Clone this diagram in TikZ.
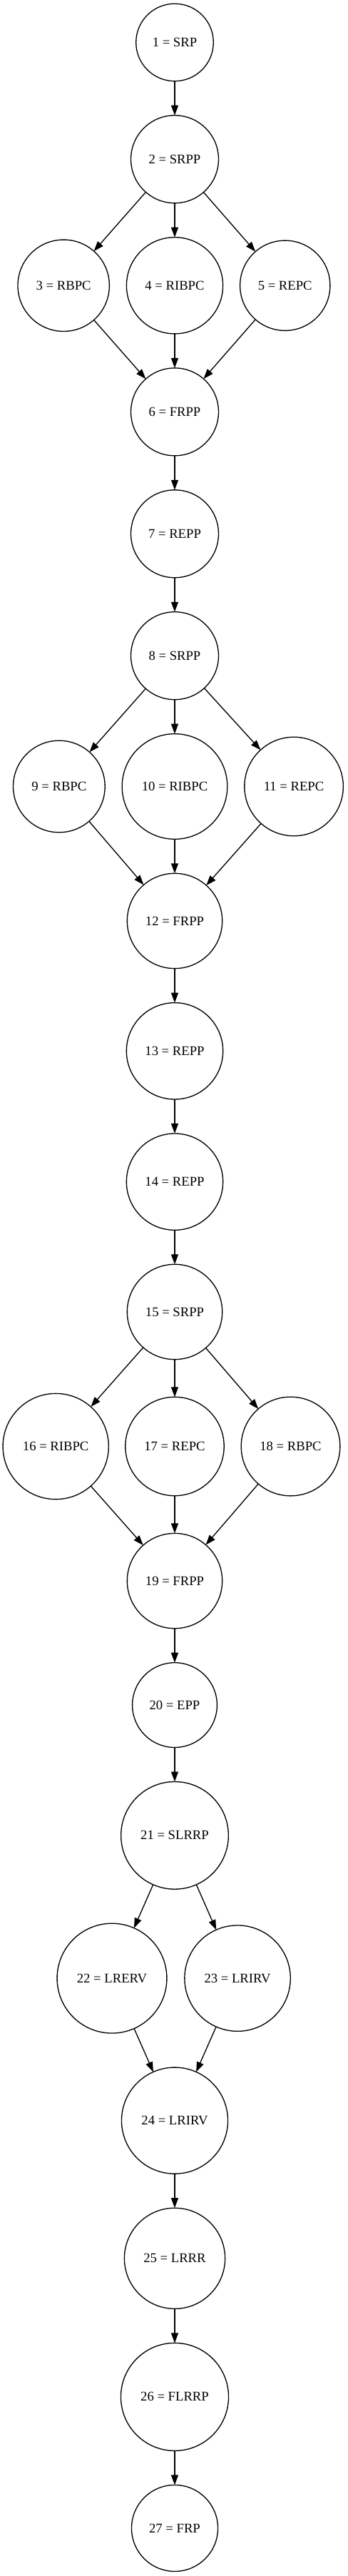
\documentclass[tikz,border=0pt]{standalone}
\usepackage{fontspec}
\setmainfont{Liberation Serif}
\usetikzlibrary{positioning, arrows.meta}
\tikzstyle{state} = [circle, draw=black, line width=1pt, inner sep=0pt, outer sep=0pt, text centered, font=\fontsize{14}{17}\selectfont]
\tikzstyle{arrow} = [line width=1pt, ->, >={Triangle[length=10.5pt, width=7.5pt]}]

\begin{document}
\begin{tikzpicture}[node distance=36pt]
          \useasboundingbox (-183.75pt,44.6pt) rectangle (181.5pt,-2663.6pt);
          \node (srp1) [state, minimum size=81.4pt] at (0,0) {1 = SRP};
          \node (srpp2) [state, minimum size=92.2pt, below=of srp1] {2 = SRPP};
          \node (ribpc4) [state, minimum size=101.4pt, below=of srpp2] {4 = RIBPC};
          \node (rbpc3) [state, minimum size=96.3pt, left=18pt of ribpc4] {3 = RBPC};
          \node (repc5) [state, minimum size=94.7pt, right=18pt of ribpc4] {5 = REPC};
          \node (frpp6) [state, minimum size=92.2pt, below=of ribpc4] {6 = FRPP};
          \node (repp7) [state, minimum size=92.2pt, below=of frpp6] {7 = REPP};
          \node (srpp8) [state, minimum size=92.2pt, below=of repp7] {8 = SRPP};
          \node (ribpc10) [state, minimum size=110.7pt, below=of srpp8] {10 = RIBPC};
          \node (rbpc9) [state, minimum size=96.5pt, left=18pt of ribpc10] {9 = RBPC};
          \node (repc11) [state, minimum size=103.9pt, right=18pt of ribpc10] {11 = REPC};
          \node (frpp12) [state, minimum size=100pt, below=of ribpc10] {12 = FRPP};
          \node (repp13) [state, minimum size=101.5pt, below=of frpp12] {13 = REPP};
          \node (repp14) [state, minimum size=101.5pt, below=of repp13] {14 = REPP};
          \node (srpp15) [state, minimum size=100pt, below=of repp14] {15 = SRPP};
          \node (repc17) [state, minimum size=103.8pt, below=39.5pt of srpp15] {17 = REPC};
          \node (ribpc16) [state, minimum size=111.2pt, left=17.6pt of repc17] {16 = RIBPC};
          \node (rbpc18) [state, minimum size=104pt, right=18pt of repc17] {18 = RBPC};
          \node (frpp19) [state, minimum size=100pt, below=39.5pt of repc17] {19 = FRPP};
          \node (epp20) [state, minimum size=89.1pt, below=of frpp19] {20 = EPP};
          \node (slrrp21) [state, minimum size=113pt, below=of epp20] {21 = SLRRP};
          \node (lrerv22) [state, minimum size=115.4pt, below=of slrrp21, xshift=-66pt] {22 = LRERV};
          \node (lrirv23) [state, minimum size=111.3pt, right=18.7pt of lrerv22] {23 = LRIRV};
          \node (lrirv24) [state, minimum size=111.8pt, below=of lrerv22, xshift=66pt] {24 = LRIRV};
          \node (lrrr25) [state, minimum size=105.9pt, below=of lrirv24] {25 = LRRR};
          \node (flrrp26) [state, minimum size=113.3pt, below=of lrrr25] {26 = FLRRP};
          \node (frp27) [state, minimum size=90.8pt, below=of flrrp26] {27 = FRP};

          \draw [arrow] (srp1) -- (srpp2);
          \draw [arrow] (srpp2) -- (rbpc3);
          \draw [arrow] (srpp2) -- (ribpc4);
          \draw [arrow] (srpp2) -- (repc5);
          \draw [arrow] (rbpc3) -- (frpp6);
          \draw [arrow] (ribpc4) -- (frpp6);
          \draw [arrow] (repc5) -- (frpp6);
          \draw [arrow] (frpp6) -- (repp7);
          \draw [arrow] (repp7) -- (srpp8);
          \draw [arrow] (srpp8) -- (rbpc9);
          \draw [arrow] (srpp8) -- (ribpc10);
          \draw [arrow] (srpp8) -- (repc11);
          \draw [arrow] (rbpc9) -- (frpp12);
          \draw [arrow] (ribpc10) -- (frpp12);
          \draw [arrow] (repc11) -- (frpp12);
          \draw [arrow] (frpp12) -- (repp13);
          \draw [arrow] (repp13) -- (repp14);
          \draw [arrow] (repp14) -- (srpp15);
          \draw [arrow] (srpp15) -- (ribpc16);
          \draw [arrow] (srpp15) -- (repc17);
          \draw [arrow] (srpp15) -- (rbpc18);
          \draw [arrow] (ribpc16) -- (frpp19);
          \draw [arrow] (repc17) -- (frpp19);
          \draw [arrow] (rbpc18) -- (frpp19);
          \draw [arrow] (frpp19) -- (epp20);
          \draw [arrow] (epp20) -- (slrrp21);
          \draw [arrow] (slrrp21) -- (lrerv22);
          \draw [arrow] (slrrp21) -- (lrirv23);
          \draw [arrow] (lrerv22) -- (lrirv24);
          \draw [arrow] (lrirv23) -- (lrirv24);
          \draw [arrow] (lrirv24) -- (lrrr25);
          \draw [arrow] (lrrr25) -- (flrrp26);
          \draw [arrow] (flrrp26) -- (frp27);
        \end{tikzpicture}
\end{document}
